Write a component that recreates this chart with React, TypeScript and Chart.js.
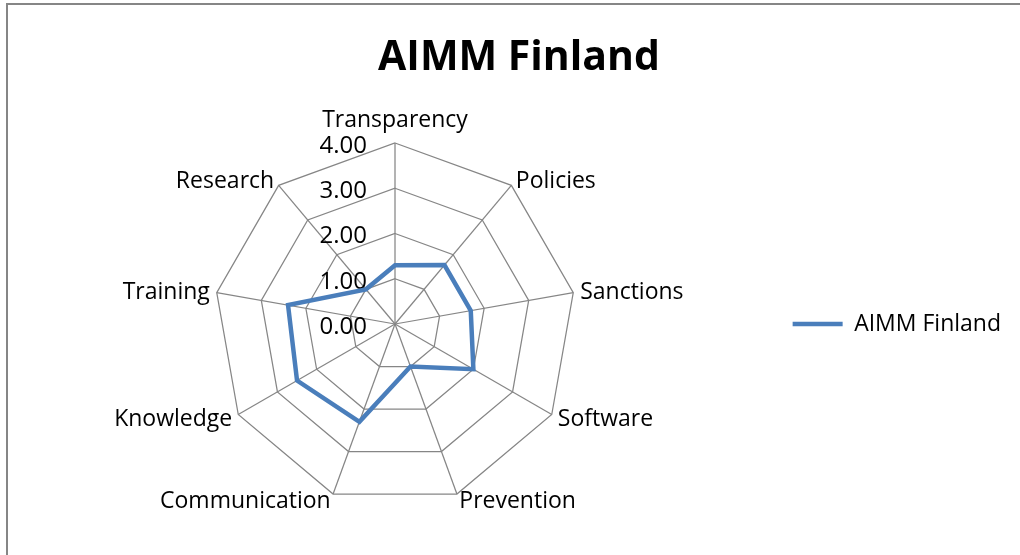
import React, { useEffect, useRef } from 'react';
import { Chart, registerables } from 'chart.js';

Chart.register(...registerables);

const chartTitle = 'AIMM Finland';
const seriesName = 'AIMM Finland';
const categories = [
  'Transparency',
  'Policies',
  'Sanctions',
  'Software',
  'Prevention',
  'Communication',
  'Knowledge',
  'Training',
  'Research',
];
const seriesValues = [1.3, 1.7, 1.7, 2.0, 1.0, 2.3, 2.5, 2.4, 1.0];
const tickLabels = ['0.00', '1.00', '2.00', '3.00', '4.00'];

const FONT = '"Open Sans", "Noto Sans", sans-serif';
const GRID = '#868686';
const LINE = '#4a7ebb';

const excelLabels = {
  id: 'excelLabels',
  beforeDatasetsDraw(chart: any) {
    const s = chart.scales.r;
    const ctx = chart.ctx;
    ctx.save();
    ctx.font = `24px ${FONT}`;
    ctx.fillStyle = '#000';
    ctx.textAlign = 'right';
    ctx.textBaseline = 'middle';
    s.ticks.forEach((t: any, i: number) => {
      const y = s.yCenter - s.getDistanceFromCenterForValue(t.value);
      ctx.fillText(tickLabels[i] ?? String(t.value), s.xCenter - 28, y + 3);
    });
    ctx.restore();
  },
  afterDraw(chart: any) {
    const s = chart.scales.r;
    const ctx = chart.ctx;
    ctx.save();
    ctx.font = `23px ${FONT}`;
    ctx.fillStyle = '#000';
    const n = categories.length;
    categories.forEach((label, i) => {
      const deg = (i * 360) / n;
      const p = s.getPointPosition(i, s.drawingArea + 7);
      if (deg === 0) {
        ctx.textAlign = 'center';
        ctx.textBaseline = 'alphabetic';
        ctx.fillText(label, p.x, s.yCenter - s.drawingArea - 16);
      } else if (deg === 180) {
        ctx.textAlign = 'center';
        ctx.textBaseline = 'top';
        ctx.fillText(label, p.x, p.y);
      } else {
        ctx.textAlign = deg < 180 ? 'left' : 'right';
        ctx.textBaseline = 'middle';
        ctx.fillText(label, p.x, p.y + 1);
      }
    });
    ctx.restore();
  },
};

export default function App() {
  const ref = useRef<HTMLCanvasElement | null>(null);

  useEffect(() => {
    if (!ref.current) return;
    const chart = new Chart(ref.current, {
      type: 'radar',
      data: {
        labels: categories,
        datasets: [
          {
            label: seriesName,
            data: seriesValues,
            borderColor: LINE,
            backgroundColor: LINE,
            borderWidth: 4.5,
            borderCapStyle: 'round',
            fill: false,
            pointRadius: 0,
            pointHoverRadius: 0,
          } as any,
        ],
      },
      options: {
        responsive: false,
        animation: false,
        layout: { padding: { left: 27, right: 9, top: 0, bottom: 50 } },
        plugins: {
          title: {
            display: true,
            text: chartTitle,
            color: '#000',
            font: { family: FONT, size: 41, weight: 'bold' },
            padding: { top: 33.4, bottom: 60.4 },
          },
          legend: {
            position: 'right',
            fullSize: false,
            labels: {
              usePointStyle: true,
              pointStyle: 'line',
              pointStyleWidth: 50,
              color: '#000',
              font: { family: FONT, size: 23 },
              padding: 10,
            },
          },
          tooltip: { enabled: false },
        },
        scales: {
          r: {
            min: 0,
            max: 4,
            ticks: { stepSize: 1, display: false },
            pointLabels: { display: false },
            grid: { color: GRID, lineWidth: 1.25 },
            angleLines: { color: GRID, lineWidth: 1.25 },
            afterFit: (s: any) => {
              s.xCenter -= 9;
            },
          } as any,
        },
      },
      plugins: [excelLabels],
    });
    return () => chart.destroy();
  }, []);

  return (
    <>
      <div
        style={{
          position: 'fixed',
          left: 6,
          top: 3,
          width: 1100,
          height: 600,
          borderLeft: `2px solid ${GRID}`,
          borderTop: `2px solid ${GRID}`,
          background: '#fff',
        }}
      />
      <div style={{ position: 'fixed', left: 0, top: 0, width: 1020, height: 555 }}>
        <canvas ref={ref} width={1020} height={555} style={{ display: 'block' }} />
      </div>
    </>
  );
}
